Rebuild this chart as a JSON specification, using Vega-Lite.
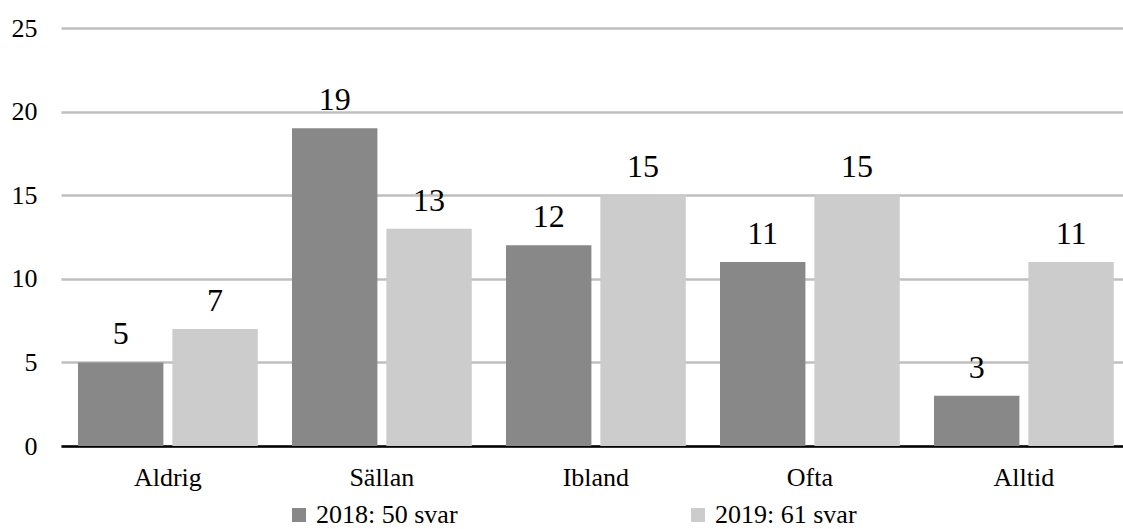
{
  "$schema": "https://vega.github.io/schema/vega-lite/v6.json",
  "autosize": "none",
  "padding": {"left": 61, "top": 28, "right": 0, "bottom": 83},
  "width": 1062,
  "height": 418,
  "background": "white",
  "config": {
    "view": {"stroke": null},
    "font": "Liberation Serif, Times New Roman, serif",
    "text": {"font": "Liberation Serif, Times New Roman, serif"}
  },
  "data": {
    "values": [
      {"kategori": "Aldrig", "serie": "2018: 50 svar", "antal": 5},
      {"kategori": "Aldrig", "serie": "2019: 61 svar", "antal": 7},
      {"kategori": "Sällan", "serie": "2018: 50 svar", "antal": 19},
      {"kategori": "Sällan", "serie": "2019: 61 svar", "antal": 13},
      {"kategori": "Ibland", "serie": "2018: 50 svar", "antal": 12},
      {"kategori": "Ibland", "serie": "2019: 61 svar", "antal": 15},
      {"kategori": "Ofta", "serie": "2018: 50 svar", "antal": 11},
      {"kategori": "Ofta", "serie": "2019: 61 svar", "antal": 15},
      {"kategori": "Alltid", "serie": "2018: 50 svar", "antal": 3},
      {"kategori": "Alltid", "serie": "2019: 61 svar", "antal": 11}
    ]
  },
  "encoding": {
    "x": {
      "field": "kategori",
      "type": "nominal",
      "sort": ["Aldrig", "Sällan", "Ibland", "Ofta", "Alltid"],
      "scale": {"paddingInner": 0.16, "paddingOuter": 0.0613, "align": 0.648},
      "axis": {
        "title": null,
        "labelAngle": 0,
        "labelFont": "Liberation Serif, Times New Roman, serif",
        "labelFontSize": 26,
        "labelColor": "black",
        "labelBaseline": "alphabetic",
        "labelPadding": 39,
        "ticks": false,
        "tickSize": 0,
        "domainColor": "black",
        "domainWidth": 2.5,
        "grid": false
      }
    },
    "xOffset": {
      "field": "serie",
      "type": "nominal",
      "scale": {"paddingInner": 0.095, "paddingOuter": 0}
    },
    "y": {
      "field": "antal",
      "type": "quantitative",
      "scale": {"domain": [0, 25], "nice": false},
      "axis": {
        "title": null,
        "values": [0, 5, 10, 15, 20, 25],
        "labelFont": "Liberation Serif, Times New Roman, serif",
        "labelFontSize": 26,
        "labelColor": "black",
        "labelPadding": 24,
        "ticks": false,
        "tickSize": 0,
        "domain": false,
        "grid": true,
        "gridColor": "#bfbfbf",
        "gridWidth": 2.5
      }
    }
  },
  "layer": [
    {
      "mark": {"type": "bar"},
      "encoding": {
        "color": {
          "field": "serie",
          "type": "nominal",
          "scale": {"domain": ["2018: 50 svar", "2019: 61 svar"], "range": ["#888888", "#cccccc"]},
          "legend": {
            "title": null,
            "orient": "none",
            "direction": "horizontal",
            "legendX": 225,
            "legendY": 474,
            "padding": 0,
            "symbolType": "square",
            "symbolSize": 196,
            "symbolStrokeWidth": 0,
            "labelOffset": 4,
            "labelFont": "Liberation Serif, Times New Roman, serif",
            "labelFontSize": 26,
            "labelColor": "black",
            "columnPadding": 227
          }
        }
      }
    },
    {
      "mark": {"type": "text", "baseline": "alphabetic", "dy": -18, "fontSize": 32, "font": "Liberation Serif, Times New Roman, serif", "color": "black"},
      "encoding": {
        "text": {"field": "antal", "type": "quantitative"}
      }
    }
  ]
}
